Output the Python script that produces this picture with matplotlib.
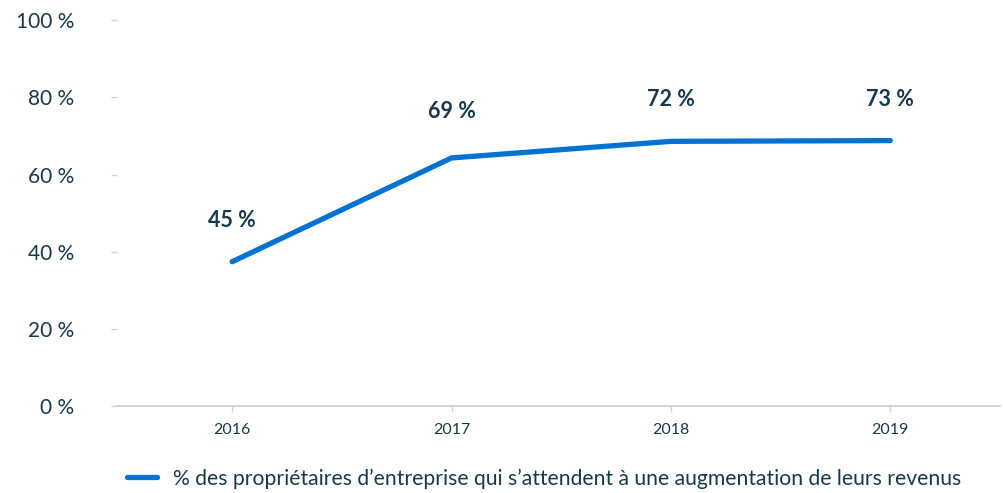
import matplotlib
matplotlib.use("Agg")
import matplotlib.pyplot as plt

# donnees
years = ["2016", "2017", "2018", "2019"]
line_vals = [37.4, 64.3, 68.6, 68.8]
point_labels = ["45 %", "69 %", "72 %", "73 %"]
label_y = [48.0, 76.3, 79.4, 79.4]
y_ticks = [0, 20, 40, 60, 80, 100]
legend_label = "% des propriétaires d’entreprise qui s’attendent à une augmentation de leurs revenus"

plt.rcParams['font.family'] = ['Lato', 'DejaVu Sans']
text_col = "#17394b"
blue = "#0073d2"

fig = plt.figure(figsize=(10.04, 4.93), dpi=100)
ax = fig.add_axes([0.1165, 0.1765, 0.8795, 0.7825])

x = range(len(years))
line, = ax.plot(x, line_vals, color=blue, linewidth=3.8, solid_capstyle="round",
                label=legend_label)

for i, t in enumerate(point_labels):
    ax.text(i, label_y[i], t, ha="center", va="center", fontsize=15.5,
            fontweight="bold", color=text_col)

ax.set_xlim(-0.525, 3.5)
ax.set_ylim(0, 100)
ax.set_xticks(list(x))
ax.set_xticklabels(years)
ax.set_yticks(y_ticks)
ax.set_yticklabels([f"{v} %" for v in y_ticks])

for s in ["top", "right", "left"]:
    ax.spines[s].set_visible(False)
ax.spines["bottom"].set_color("#d4d4d4")
ax.spines["bottom"].set_linewidth(1.5)

ax.tick_params(axis="y", length=4, width=1, color="#d4d4d4", pad=27,
               labelsize=15, labelcolor=text_col)
ax.tick_params(axis="x", length=4, width=1, color="#d4d4d4", pad=8,
               labelsize=11.5, labelcolor=text_col)

leg = fig.legend(handles=[line], loc="lower left", bbox_to_anchor=(0.108, -0.03),
                 frameon=False, fontsize=15.2, handlelength=1.4, handletextpad=0.75)
for t in leg.get_texts():
    t.set_color(text_col)

fig.savefig("out.png", dpi=100)
